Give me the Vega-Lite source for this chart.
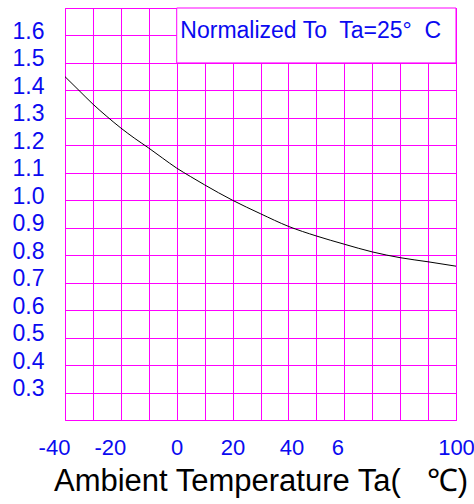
{
  "$schema": "https://vega.github.io/schema/vega-lite/v6.json",
  "width": 391,
  "height": 412,
  "autosize": {"type": "none"},
  "padding": {"left": 65, "top": 8, "right": 18, "bottom": 84},
  "background": "white",
  "config": {
    "view": {"stroke": "#ff00ff", "strokeWidth": 1},
    "font": "Liberation Sans",
    "axis": {
      "grid": true,
      "gridColor": "#ff00ff",
      "gridOpacity": 1,
      "gridWidth": 1,
      "domain": false,
      "ticks": false,
      "labelColor": "#0a0af0",
      "labelFont": "Liberation Sans",
      "labelFontSize": 22,
      "labelOverlap": false,
      "labelFlush": false
    },
    "axisY": {"labelFontSize": 23}
  },
  "layer": [
    {
      "data": {
        "values": [
          {"temp": -40, "ratio": 1.45},
          {"temp": -35, "ratio": 1.4},
          {"temp": -30, "ratio": 1.35},
          {"temp": -25, "ratio": 1.305},
          {"temp": -20, "ratio": 1.263},
          {"temp": -15, "ratio": 1.225},
          {"temp": -10, "ratio": 1.19},
          {"temp": -5, "ratio": 1.153},
          {"temp": 0, "ratio": 1.117},
          {"temp": 5, "ratio": 1.086},
          {"temp": 10, "ratio": 1.056},
          {"temp": 20, "ratio": 1.0},
          {"temp": 30, "ratio": 0.951},
          {"temp": 40, "ratio": 0.905},
          {"temp": 50, "ratio": 0.87},
          {"temp": 60, "ratio": 0.84},
          {"temp": 70, "ratio": 0.812},
          {"temp": 80, "ratio": 0.791},
          {"temp": 90, "ratio": 0.776},
          {"temp": 100, "ratio": 0.76}
        ]
      },
      "mark": {"type": "line", "color": "black", "strokeWidth": 1, "interpolate": "monotone"},
      "encoding": {
        "x": {
          "field": "temp",
          "type": "quantitative",
          "scale": {"domain": [-40, 100], "nice": false, "zero": false},
          "axis": {
            "values": [-40, -30, -20, -10, 0, 10, 20, 30, 40, 50, 60, 70, 80, 90, 100],
            "labelExpr": "datum.value == 60 ? '6' : ((datum.value % 20 == 0 && datum.value != 80) ? toString(datum.value) : '')",
            "labelPadding": 17,
            "labelOffset": {"condition": [{"test": "datum.value < 0", "value": -11}, {"test": "datum.value == 60", "value": -7}, {"test": "datum.value == 40", "value": 3}], "value": 0},
            "title": "Ambient Temperature Ta(\u00a0\u00a0 ℃)",
            "titleFont": "Liberation Sans",
            "titleFontSize": 31,
            "titleFontWeight": "normal",
            "titleColor": "black",
            "titlePadding": 8
          }
        },
        "y": {
          "field": "ratio",
          "type": "quantitative",
          "scale": {"domain": [0.2, 1.7], "nice": false, "zero": false},
          "axis": {
            "values": [0.2, 0.3, 0.4, 0.5, 0.6, 0.7, 0.8, 0.9, 1.0, 1.1, 1.2, 1.3, 1.4, 1.5, 1.6, 1.7],
            "labelExpr": "(datum.value < 0.25 || datum.value > 1.65) ? '' : format(datum.value, '.1f')",
            "labelPadding": 21,
            "labelOffset": -4,
            "title": null
          }
        }
      }
    },
    {
      "data": {"values": [{"box": "note"}]},
      "mark": {"type": "rect", "fill": "white", "stroke": "#ff00ff", "strokeWidth": 1},
      "encoding": {
        "x": {
          "datum": 0,
          "type": "quantitative",
          "axis": {
            "values": [-40, -30, -20, -10, 0, 10, 20, 30, 40, 50, 60, 70, 80, 90, 100],
            "labelExpr": "datum.value == 60 ? '6' : ((datum.value % 20 == 0 && datum.value != 80) ? toString(datum.value) : '')",
            "labelPadding": 17,
            "labelOffset": {"condition": [{"test": "datum.value < 0", "value": -11}, {"test": "datum.value == 60", "value": -7}, {"test": "datum.value == 40", "value": 3}], "value": 0},
            "title": "Ambient Temperature Ta(\u00a0\u00a0 ℃)",
            "titleFont": "Liberation Sans",
            "titleFontSize": 31,
            "titleFontWeight": "normal",
            "titleColor": "black",
            "titlePadding": 8
          }
        },
        "x2": {"datum": 100},
        "y": {
          "datum": 1.5,
          "type": "quantitative",
          "axis": {
            "values": [0.2, 0.3, 0.4, 0.5, 0.6, 0.7, 0.8, 0.9, 1.0, 1.1, 1.2, 1.3, 1.4, 1.5, 1.6, 1.7],
            "labelExpr": "(datum.value < 0.25 || datum.value > 1.65) ? '' : format(datum.value, '.1f')",
            "labelPadding": 21,
            "labelOffset": -4,
            "title": null
          }
        },
        "y2": {"datum": 1.7}
      }
    },
    {
      "data": {"values": [{"note": "Normalized To\u00a0 Ta=25°\u00a0 C"}]},
      "mark": {"type": "text", "color": "#0a0af0", "font": "Liberation Sans", "fontSize": 23, "align": "center", "baseline": "middle"},
      "encoding": {
        "x": {
          "datum": 48,
          "type": "quantitative",
          "axis": {
            "values": [-40, -30, -20, -10, 0, 10, 20, 30, 40, 50, 60, 70, 80, 90, 100],
            "labelExpr": "datum.value == 60 ? '6' : ((datum.value % 20 == 0 && datum.value != 80) ? toString(datum.value) : '')",
            "labelPadding": 17,
            "labelOffset": {"condition": [{"test": "datum.value < 0", "value": -11}, {"test": "datum.value == 60", "value": -7}, {"test": "datum.value == 40", "value": 3}], "value": 0},
            "title": "Ambient Temperature Ta(\u00a0\u00a0 ℃)",
            "titleFont": "Liberation Sans",
            "titleFontSize": 31,
            "titleFontWeight": "normal",
            "titleColor": "black",
            "titlePadding": 8
          }
        },
        "y": {
          "datum": 1.617,
          "type": "quantitative",
          "axis": {
            "values": [0.2, 0.3, 0.4, 0.5, 0.6, 0.7, 0.8, 0.9, 1.0, 1.1, 1.2, 1.3, 1.4, 1.5, 1.6, 1.7],
            "labelExpr": "(datum.value < 0.25 || datum.value > 1.65) ? '' : format(datum.value, '.1f')",
            "labelPadding": 21,
            "labelOffset": -4,
            "title": null
          }
        },
        "text": {"field": "note"}
      }
    }
  ]
}
